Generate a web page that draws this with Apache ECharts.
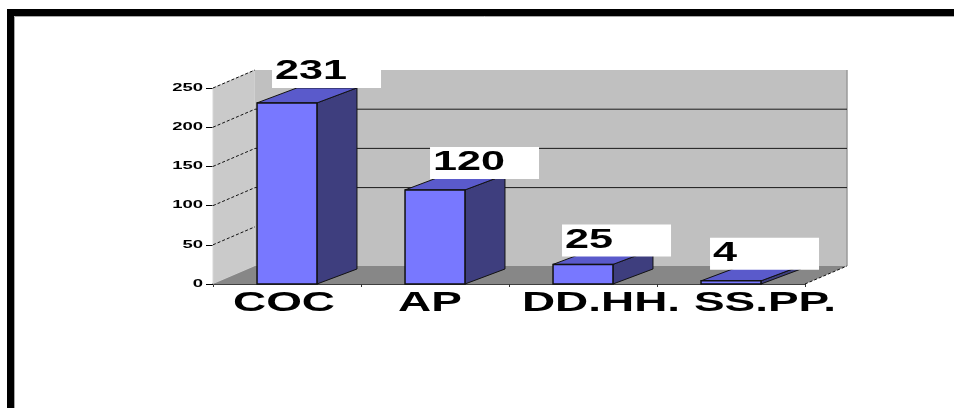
<!DOCTYPE html>
<html>
<head>
<meta charset="utf-8">
<script src="https://cdn.jsdelivr.net/npm/echarts@6/dist/echarts.min.js"></script>
<style>
  html, body { margin: 0; padding: 0; background: #ffffff; }
  #chart { width: 954px; height: 408px; }
</style>
</head>
<body>
<div id="chart"></div>
<script>
// Chart data
const categories = ['COC', 'AP', 'DD.HH.', 'SS.PP.'];
const values = [231, 120, 25, 4];
const yTicks = [0, 50, 100, 150, 200, 250];

const FONT = '"Liberation Sans", Arial, sans-serif';
const BAR_DX = 40, BAR_DY = -15;   // depth of each 3D column
const WALL_DX = 42, WALL_DY = -18; // depth of walls and floor

// Hand-placed label nudges (px) for the value boxes and category names
const boxNudge = [[3, -4], [13, 0], [-3, 3], [-3, 0]];
const nameNudge = [-3, -5, 18, 34];

// Wide bold text, stretched horizontally
function wideText(x, y, text, size, sx, align) {
  return {
    type: 'text', x: x, y: y, scaleX: sx,
    style: { text: text, x: 0, y: 0, fill: '#000', font: 'bold ' + size + 'px ' + FONT,
             align: align, verticalAlign: 'middle' }
  };
}

// Side wall, back wall and floor of the 3D box
function renderWalls(params, api) {
  const cs = params.coordSys;
  const x0 = cs.x, x1 = cs.x + cs.width, yt = cs.y, yb = cs.y + cs.height;
  return {
    type: 'group',
    children: [
      { type: 'polygon', shape: { points: [[x0, yb], [x0, yt], [x0 + WALL_DX, yt + WALL_DY], [x0 + WALL_DX, yb + WALL_DY]] },
        style: { fill: '#cacaca', stroke: '#d6d6d6', lineWidth: 1 } },
      { type: 'polygon', shape: { points: [[x0 + WALL_DX, yt + WALL_DY], [x1 + WALL_DX, yt + WALL_DY], [x1 + WALL_DX, yb + WALL_DY], [x0 + WALL_DX, yb + WALL_DY]] },
        style: { fill: '#c0c0c0', stroke: null } },
      { type: 'line', shape: { x1: x1 + WALL_DX, y1: yt + WALL_DY, x2: x1 + WALL_DX, y2: yb + WALL_DY },
        style: { stroke: '#9a9a9a', lineWidth: 1.5 } },
      { type: 'polygon', shape: { points: [[x0, yb], [x1, yb], [x1 + WALL_DX, yb + WALL_DY], [x0 + WALL_DX, yb + WALL_DY]] },
        style: { fill: '#878787', stroke: null } },
      { type: 'line', shape: { x1: x1, y1: yb, x2: x1 + WALL_DX, y2: yb + WALL_DY },
        style: { stroke: '#111', lineWidth: 1, lineDash: [3, 2] } }
    ]
  };
}

// Gridlines: dashed on the side wall, solid on the back wall
function renderGrid(params, api) {
  const cs = params.coordSys;
  const x0 = cs.x, x1 = cs.x + cs.width;
  const v = api.value(1);
  const y = api.coord([0, v])[1];
  const children = [
    { type: 'line', shape: { x1: x0, y1: y, x2: x0 + WALL_DX, y2: y + WALL_DY },
      style: { stroke: '#111', lineWidth: 1, lineDash: [3, 2] } }
  ];
  if (v >= 100 && v < 250) {
    children.push({ type: 'line', shape: { x1: x0 + WALL_DX, y1: y + WALL_DY, x2: x1 + WALL_DX, y2: y + WALL_DY },
      style: { stroke: '#1a1a1a', lineWidth: 1 } });
  }
  return { type: 'group', children: children };
}

// Value-axis tick labels
function renderYLabel(params, api) {
  const cs = params.coordSys;
  const v = api.value(1);
  const y = api.coord([0, v])[1];
  return wideText(cs.x - 10, y, String(v), 10, 1.85, 'right');
}

// 3D columns with their value boxes
function renderBar(params, api) {
  const i = api.value(0), v = api.value(1);
  const base = api.coord([i, 0]);
  const top = api.coord([i, v]);
  const band = api.size([1, 0])[0];
  const w = band * 0.405;
  const x = base[0] - w / 2;
  const yT = top[1], yB = base[1];
  const boxW = 109, boxH = 32;
  const nudge = boxNudge[params.dataIndex];
  const boxX = x + 12 + nudge[0], boxY = yT - 11 - boxH + nudge[1];
  return {
    type: 'group',
    children: [
      { type: 'polygon', shape: { points: [[x + w, yT], [x + w + BAR_DX, yT + BAR_DY], [x + w + BAR_DX, yB + BAR_DY], [x + w, yB]] },
        style: { fill: '#3e3e7e', stroke: '#111', lineWidth: 1 } },
      { type: 'polygon', shape: { points: [[x, yT], [x + BAR_DX, yT + BAR_DY], [x + w + BAR_DX, yT + BAR_DY], [x + w, yT]] },
        style: { fill: '#5a5acb', stroke: '#111', lineWidth: 1 } },
      { type: 'rect', shape: { x: x, y: yT, width: w, height: yB - yT },
        style: { fill: '#7878ff', stroke: '#111', lineWidth: 1.5 } },
      { type: 'rect', shape: { x: boxX, y: boxY, width: boxW, height: boxH },
        style: { fill: '#ffffff', stroke: null } },
      wideText(boxX + 3, boxY + boxH / 2, String(v), 27, 1.6, 'left')
    ]
  };
}

// Category names under the floor
function renderCategory(params, api) {
  const i = api.value(0);
  const p = api.coord([i, 0]);
  return wideText(p[0] + nameNudge[i], p[1] + 19, categories[i], 28, 1.64, 'center');
}

const option = {
  backgroundColor: '#ffffff',
  animation: false,
  grid: { left: 213, right: 149, top: 88, bottom: 124, containLabel: false },
  xAxis: {
    type: 'category', data: categories,
    axisLine: { show: true, lineStyle: { color: '#000', width: 1.5 } },
    axisTick: { show: true, length: 3, lineStyle: { color: '#333' } },
    axisLabel: { show: false },
    splitLine: { show: false }
  },
  yAxis: {
    type: 'value', min: 0, max: 250, interval: 50,
    axisLine: { show: false },
    axisTick: { show: true, length: 7, lineStyle: { color: '#000', width: 1 } },
    axisLabel: { show: false },
    splitLine: { show: false }
  },
  graphic: [
    { type: 'rect', z: 0, shape: { x: 10.5, y: 12.5, width: 980, height: 430 },
      style: { fill: 'none', stroke: '#000', lineWidth: 7 } },
    { type: 'rect', z: 0, shape: { x: 14.5, y: 16.5, width: 980, height: 430 },
      style: { fill: 'none', stroke: '#a8a8a8', lineWidth: 1 } }
  ],
  series: [
    { type: 'custom', name: 'walls', silent: true, z: 1, data: [[0, 0]], renderItem: renderWalls },
    { type: 'custom', name: 'grid', silent: true, z: 2, data: yTicks.slice(1).map(v => [0, v]), renderItem: renderGrid },
    { type: 'custom', name: 'ylabels', silent: true, z: 2, data: yTicks.map(v => [0, v]), renderItem: renderYLabel },
    { type: 'custom', name: 'values', z: 3, data: values.map((v, i) => [i, v]), renderItem: renderBar },
    { type: 'custom', name: 'categories', silent: true, z: 3, data: categories.map((c, i) => [i, 0]), renderItem: renderCategory }
  ]
};

const chart = echarts.init(document.getElementById('chart'));
chart.setOption(option);
</script>
</body>
</html>
